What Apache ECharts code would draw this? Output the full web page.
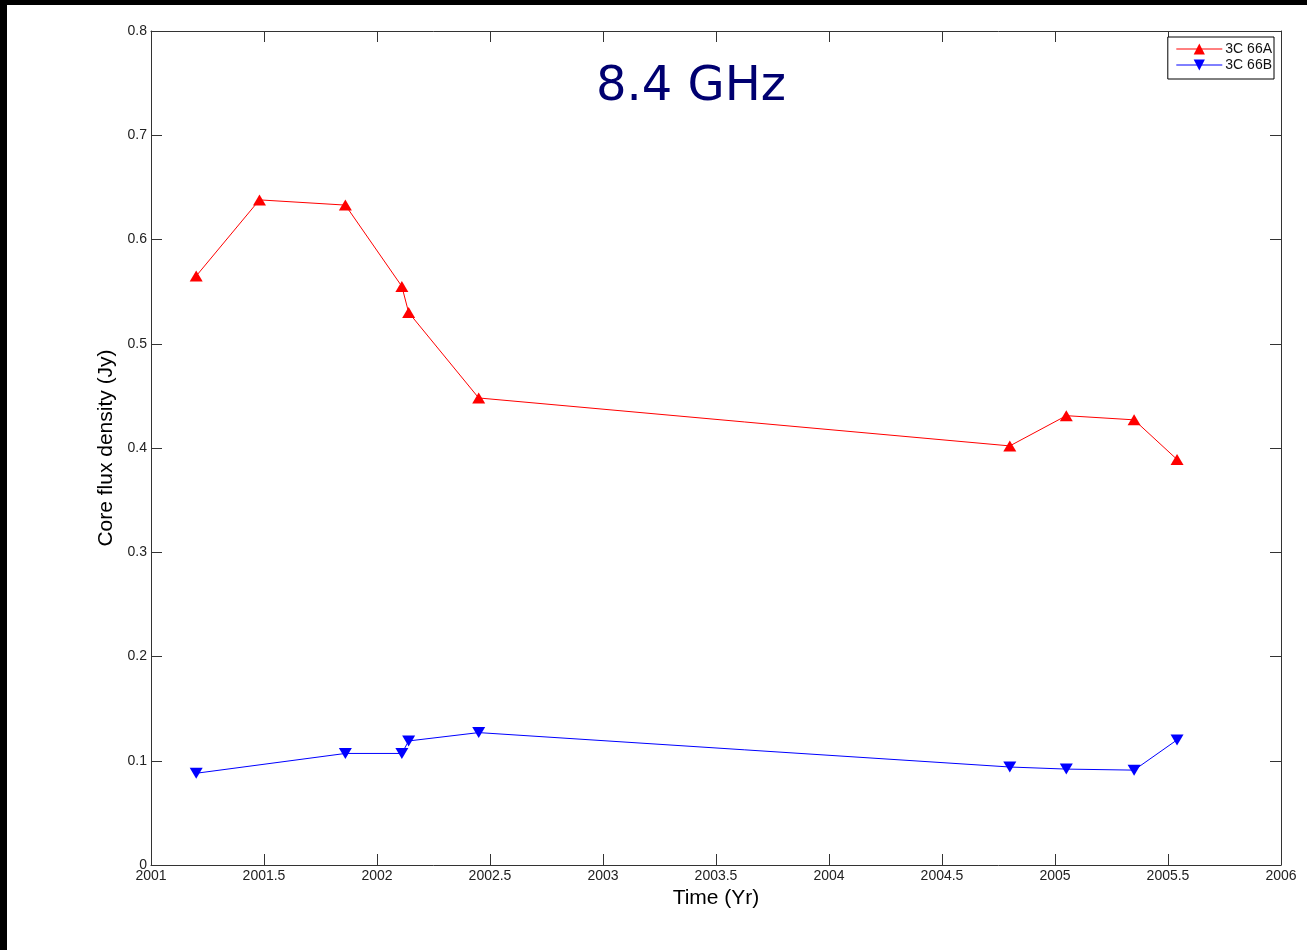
<!DOCTYPE html>
<html>
<head>
<meta charset="utf-8">
<title>8.4 GHz core flux</title>
<script src="https://cdn.jsdelivr.net/npm/echarts@6/dist/echarts.min.js"></script>
<style>
  html, body { margin: 0; padding: 0; background: #fff; }
  #main { position: absolute; left: 0; top: 0; width: 1307px; height: 950px; }
  .bar { position: absolute; background: #000; }
</style>
</head>
<body>
<div id="main"></div>
<div class="bar" style="left:0;top:0;width:1307px;height:5px"></div>
<div class="bar" style="left:0;top:0;width:7px;height:950px"></div>
<script>
// 3C 66A core, 8.4 GHz
var yearsA = [2001.2, 2001.48, 2001.86, 2002.11, 2002.14, 2002.45, 2004.8, 2005.05, 2005.35, 2005.54];
var fluxA = [0.565, 0.638, 0.633, 0.555, 0.530, 0.448, 0.402, 0.431, 0.427, 0.389];
// 3C 66B core
var yearsB = [2001.2, 2001.86, 2002.11, 2002.14, 2002.45, 2004.8, 2005.05, 2005.35, 2005.54];
var fluxB = [0.088, 0.107, 0.107, 0.119, 0.127, 0.094, 0.092, 0.091, 0.120];

var xMin = 2001, xMax = 2006, xStep = 0.5;
var yMin = 0, yMax = 0.8, yStep = 0.1;

function pairs(xs, ys) {
  return xs.map(function (x, i) { return [x, ys[i]]; });
}

var axisColor = "#333";
var labelFont = "Liberation Sans, Arial, sans-serif";

function fmt(v) {
  return String(Math.round(v * 100) / 100);
}

var chart = echarts.init(document.getElementById("main"));
var option = {
  animation: false,
  backgroundColor: "#fff",
  title: {
    text: "8.4 GHz",
    left: 686,
    top: 59,
    textAlign: "center",
    textStyle: {
      fontFamily: "Comic Sans MS, DejaVu Sans, sans-serif",
      fontSize: 48,
      fontWeight: "normal",
      color: "#000070"
    }
  },
  legend: {
    orient: "vertical",
    right: 33,
    top: 37,
    padding: [5, 2, 7, 8],
    itemGap: 2,
    itemWidth: 46,
    itemHeight: 14,
    borderColor: "#000",
    borderWidth: 1,
    backgroundColor: "#fff",
    lineStyle: { width: 1 },
    textStyle: { fontFamily: labelFont, fontSize: 14, color: "#111", padding: [0, 0, 0, -2] },
    data: ["3C 66A", "3C 66B"]
  },
  grid: {
    left: 151,
    right: 26,
    top: 31,
    bottom: 85
  },
  xAxis: [
    {
      type: "value",
      min: xMin,
      max: xMax,
      interval: xStep,
      name: "Time (Yr)",
      nameLocation: "middle",
      nameGap: 20,
      nameTextStyle: { fontFamily: labelFont, fontSize: 21, color: "#000" },
      axisLine: { show: true, onZero: false, lineStyle: { color: axisColor, width: 1 } },
      axisTick: { show: true, inside: true, length: 11, lineStyle: { color: axisColor } },
      axisLabel: { fontFamily: labelFont, fontSize: 14, color: "#222", margin: 4, formatter: fmt },
      splitLine: { show: false }
    },
    {
      type: "value",
      position: "top",
      min: xMin,
      max: xMax,
      interval: xStep,
      axisLine: { show: true, onZero: false, lineStyle: { color: axisColor, width: 1 } },
      axisTick: { show: true, inside: true, length: 11, lineStyle: { color: axisColor } },
      axisLabel: { show: false },
      splitLine: { show: false }
    }
  ],
  yAxis: [
    {
      type: "value",
      min: yMin,
      max: yMax,
      interval: yStep,
      name: "Core flux density (Jy)",
      nameLocation: "middle",
      nameGap: 34,
      nameTextStyle: { fontFamily: labelFont, fontSize: 21, color: "#000" },
      axisLine: { show: true, onZero: false, lineStyle: { color: axisColor, width: 1 } },
      axisTick: { show: true, inside: true, length: 11, lineStyle: { color: axisColor } },
      axisLabel: { fontFamily: labelFont, fontSize: 14, color: "#222", margin: 4, formatter: fmt },
      splitLine: { show: false }
    },
    {
      type: "value",
      position: "right",
      min: yMin,
      max: yMax,
      interval: yStep,
      axisLine: { show: true, onZero: false, lineStyle: { color: axisColor, width: 1 } },
      axisTick: { show: true, inside: true, length: 11, lineStyle: { color: axisColor } },
      axisLabel: { show: false },
      splitLine: { show: false }
    }
  ],
  series: [
    {
      name: "3C 66A",
      type: "line",
      xAxisIndex: 0,
      yAxisIndex: 0,
      data: pairs(yearsA, fluxA),
      symbol: "triangle",
      symbolSize: [13, 11],
      lineStyle: { color: "#ff0000", width: 1 },
      itemStyle: { color: "#ff0000" }
    },
    {
      name: "3C 66B",
      type: "line",
      xAxisIndex: 0,
      yAxisIndex: 0,
      data: pairs(yearsB, fluxB),
      symbol: "triangle",
      symbolRotate: 180,
      symbolSize: [13, 11],
      lineStyle: { color: "#0000ff", width: 1 },
      itemStyle: { color: "#0000ff" }
    }
  ]
};
chart.setOption(option);
</script>
</body>
</html>
